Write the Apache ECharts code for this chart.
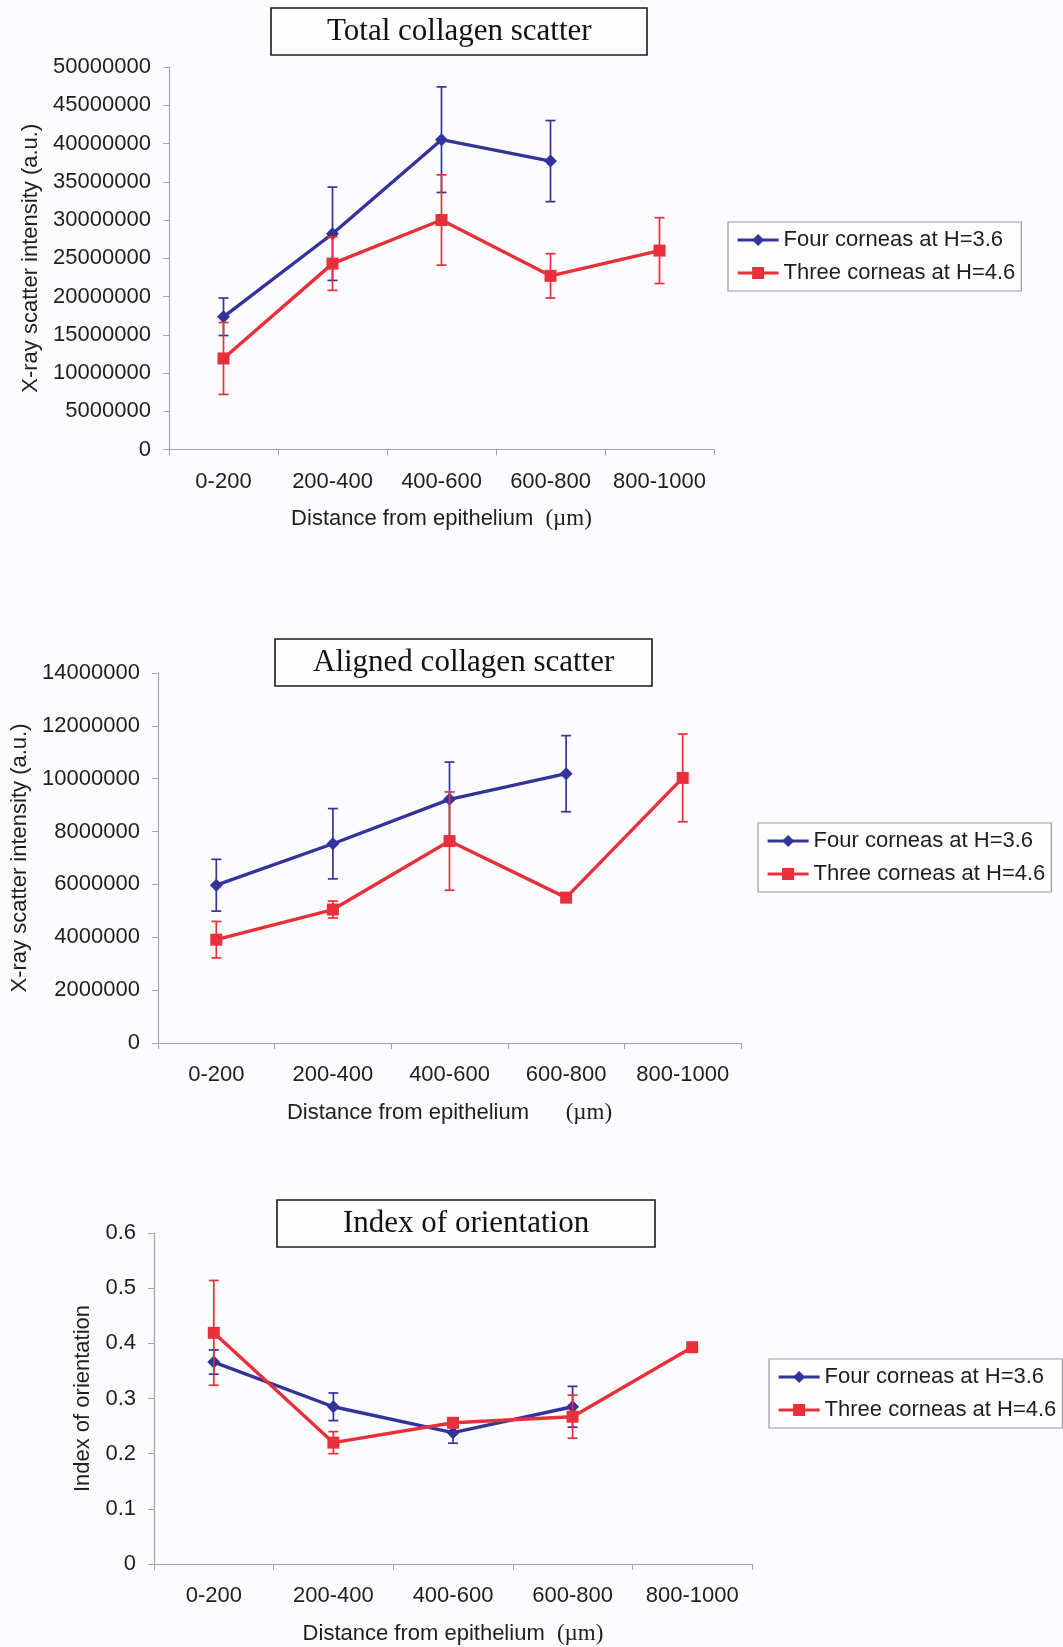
<!DOCTYPE html>
<html>
<head>
<meta charset="utf-8">
<script src="https://cdn.jsdelivr.net/npm/echarts@6/dist/echarts.min.js"></script>
<style>
html,body{margin:0;padding:0;background:#fcfcfe;}
#c{width:1063px;height:1647px;}
</style>
</head>
<body>
<div id="c"></div>
<script>
const categories = ['0-200', '200-400', '400-600', '600-800', '800-1000'];
const seriesNames = ['Four corneas at H=3.6', 'Three corneas at H=4.6'];

const totalFour = [17.35e6, 28.2e6, 40.5e6, 37.7e6, null];
const totalFourErr = [2.45e6, 6.1e6, 6.9e6, 5.3e6, null];
const totalThree = [11.9e6, 24.3e6, 30.0e6, 22.7e6, 26.0e6];
const totalThreeErr = [4.7e6, 3.5e6, 5.9e6, 2.9e6, 4.3e6];

const alignedFour = [5.97e6, 7.54e6, 9.22e6, 10.19e6, null];
const alignedFourErr = [0.98e6, 1.33e6, 1.41e6, 1.44e6, null];
const alignedThree = [3.91e6, 5.05e6, 7.64e6, 5.5e6, 10.03e6];
const alignedThreeErr = [0.69e6, 0.32e6, 1.86e6, 0.08e6, 1.66e6];

const indexFour = [0.366, 0.285, 0.238, 0.285, null];
const indexFourErr = [0.022, 0.025, 0.019, 0.037, null];
const indexThree = [0.419, 0.22, 0.256, 0.267, 0.393];
const indexThreeErr = [0.095, 0.02, 0.008, 0.039, 0.004];

const titles = ['Total collagen scatter', 'Aligned collagen scatter', 'Index of orientation'];
const yNames = ['X-ray scatter intensity (a.u.)', 'X-ray scatter intensity (a.u.)', 'Index of orientation'];
const xNames = ['Distance from epithelium  {s|(\u00b5m)}', 'Distance from epithelium      {s|(\u00b5m)}', 'Distance from epithelium  {s|(\u00b5m)}'];
const yMax = [50000000, 14000000, 0.6];
const yStep = [5000000, 2000000, 0.1];

const BLUE = '#33349a';
const RED = '#e8303a';
const SANS = 'Liberation Sans';
const SERIF = 'Liberation Serif';
const AXIS = '#a3a3b3';
const TXT = '#1e1e1e';

const grids = [
  {left: 169, top: 67, width: 545, height: 382.5},
  {left: 158, top: 673, width: 583, height: 370},
  {left: 154, top: 1233, width: 598, height: 331}
];
const titlePos = [
  {left: 271, top: 8, pad: 56},
  {left: 275, top: 639, pad: 38},
  {left: 277, top: 1200, pad: 66}
];
const legendPos = [
  {left: 728, top: 222},
  {left: 758, top: 823},
  {left: 769, top: 1359}
];
const yNameGap = [127, 127, 60];

function errData(vals, errs) {
  const out = [];
  vals.forEach((v, i) => {
    if (v != null && errs[i] != null) out.push([i, v - errs[i], v + errs[i]]);
  });
  return out;
}
function errRenderer(color) {
  return function (params, api) {
    const x = api.value(0);
    const lo = api.coord([x, api.value(1)]);
    const hi = api.coord([x, api.value(2)]);
    const w = 5;
    const st = {stroke: color, lineWidth: 1.7};
    return {
      type: 'group',
      children: [
        {type: 'line', shape: {x1: hi[0], y1: hi[1], x2: lo[0], y2: lo[1]}, style: st},
        {type: 'line', shape: {x1: hi[0] - w, y1: hi[1], x2: hi[0] + w, y2: hi[1]}, style: st},
        {type: 'line', shape: {x1: lo[0] - w, y1: lo[1], x2: lo[0] + w, y2: lo[1]}, style: st}
      ]
    };
  };
}

const datasets = [
  [totalFour, totalFourErr, totalThree, totalThreeErr],
  [alignedFour, alignedFourErr, alignedThree, alignedThreeErr],
  [indexFour, indexFourErr, indexThree, indexThreeErr]
];

const xAxis = [], yAxis = [], series = [], title = [], legend = [];
for (let k = 0; k < 3; k++) {
  xAxis.push({
    type: 'category', gridIndex: k, data: categories, boundaryGap: true,
    axisLine: {lineStyle: {color: AXIS, width: 1.2}},
    axisTick: {show: true, length: 6, lineStyle: {color: AXIS}},
    axisLabel: {color: TXT, fontFamily: SANS, fontSize: 22, margin: 21, interval: 0},
    name: xNames[k], nameLocation: 'middle', nameGap: 58,
    nameTextStyle: {color: TXT, fontFamily: SANS, fontSize: 22,
      rich: {s: {fontFamily: SERIF, fontSize: 23, color: TXT}}}
  });
  yAxis.push({
    type: 'value', gridIndex: k, min: 0, max: yMax[k], interval: yStep[k],
    axisLine: {show: true, lineStyle: {color: AXIS, width: 1.2}},
    axisTick: {show: true, length: 6, lineStyle: {color: AXIS}},
    splitLine: {show: false},
    axisLabel: {color: TXT, fontFamily: SANS, fontSize: 22, margin: 18, formatter: v => String(v)},
    name: yNames[k], nameLocation: 'middle', nameGap: yNameGap[k],
    nameTextStyle: {color: TXT, fontFamily: SANS, fontSize: 22}
  });
  title.push({
    text: titles[k], left: titlePos[k].left, top: titlePos[k].top,
    borderWidth: 1.6, borderColor: '#1a1a1a', backgroundColor: '#fdfdfe',
    padding: [8, titlePos[k].pad],
    textStyle: {fontFamily: SERIF, fontSize: 31, fontWeight: 'normal', color: '#111', lineHeight: 31}
  });
  legend.push({
    data: seriesNames, orient: 'vertical', left: legendPos[k].left, top: legendPos[k].top,
    itemWidth: 41, itemHeight: 15, itemGap: 11,
    lineStyle: {width: 3.2},
    padding: [7, 6, 7, 8], borderWidth: 1.2, borderColor: '#9a9aa6', backgroundColor: '#fdfdfe',
    textStyle: {fontFamily: SANS, fontSize: 22, color: TXT, lineHeight: 22}
  });
  const d = datasets[k];
  series.push({
    name: seriesNames[0], type: 'line', xAxisIndex: k, yAxisIndex: k, data: d[0],
    symbol: 'diamond', symbolSize: 13, color: BLUE,
    lineStyle: {width: 3.4, color: BLUE}, itemStyle: {color: BLUE}, z: 2
  });
  series.push({
    name: seriesNames[0] + ' error', type: 'custom', xAxisIndex: k, yAxisIndex: k,
    data: errData(d[0], d[1]), renderItem: errRenderer(BLUE), encode: {x: 0, y: [1, 2]}, z: 3
  });
  series.push({
    name: seriesNames[1], type: 'line', xAxisIndex: k, yAxisIndex: k, data: d[2],
    symbol: 'rect', symbolSize: 12, color: RED,
    lineStyle: {width: 3.4, color: RED}, itemStyle: {color: RED}, z: 4
  });
  series.push({
    name: seriesNames[1] + ' error', type: 'custom', xAxisIndex: k, yAxisIndex: k,
    data: errData(d[2], d[3]), renderItem: errRenderer(RED), encode: {x: 0, y: [1, 2]}, z: 5
  });
}

const chart = echarts.init(document.getElementById('c'), null, {renderer: 'canvas'});
chart.setOption({
  backgroundColor: '#fcfcfe',
  animation: false,
  title: title,
  legend: legend,
  grid: grids,
  xAxis: xAxis,
  yAxis: yAxis,
  series: series
});
</script>
</body>
</html>
